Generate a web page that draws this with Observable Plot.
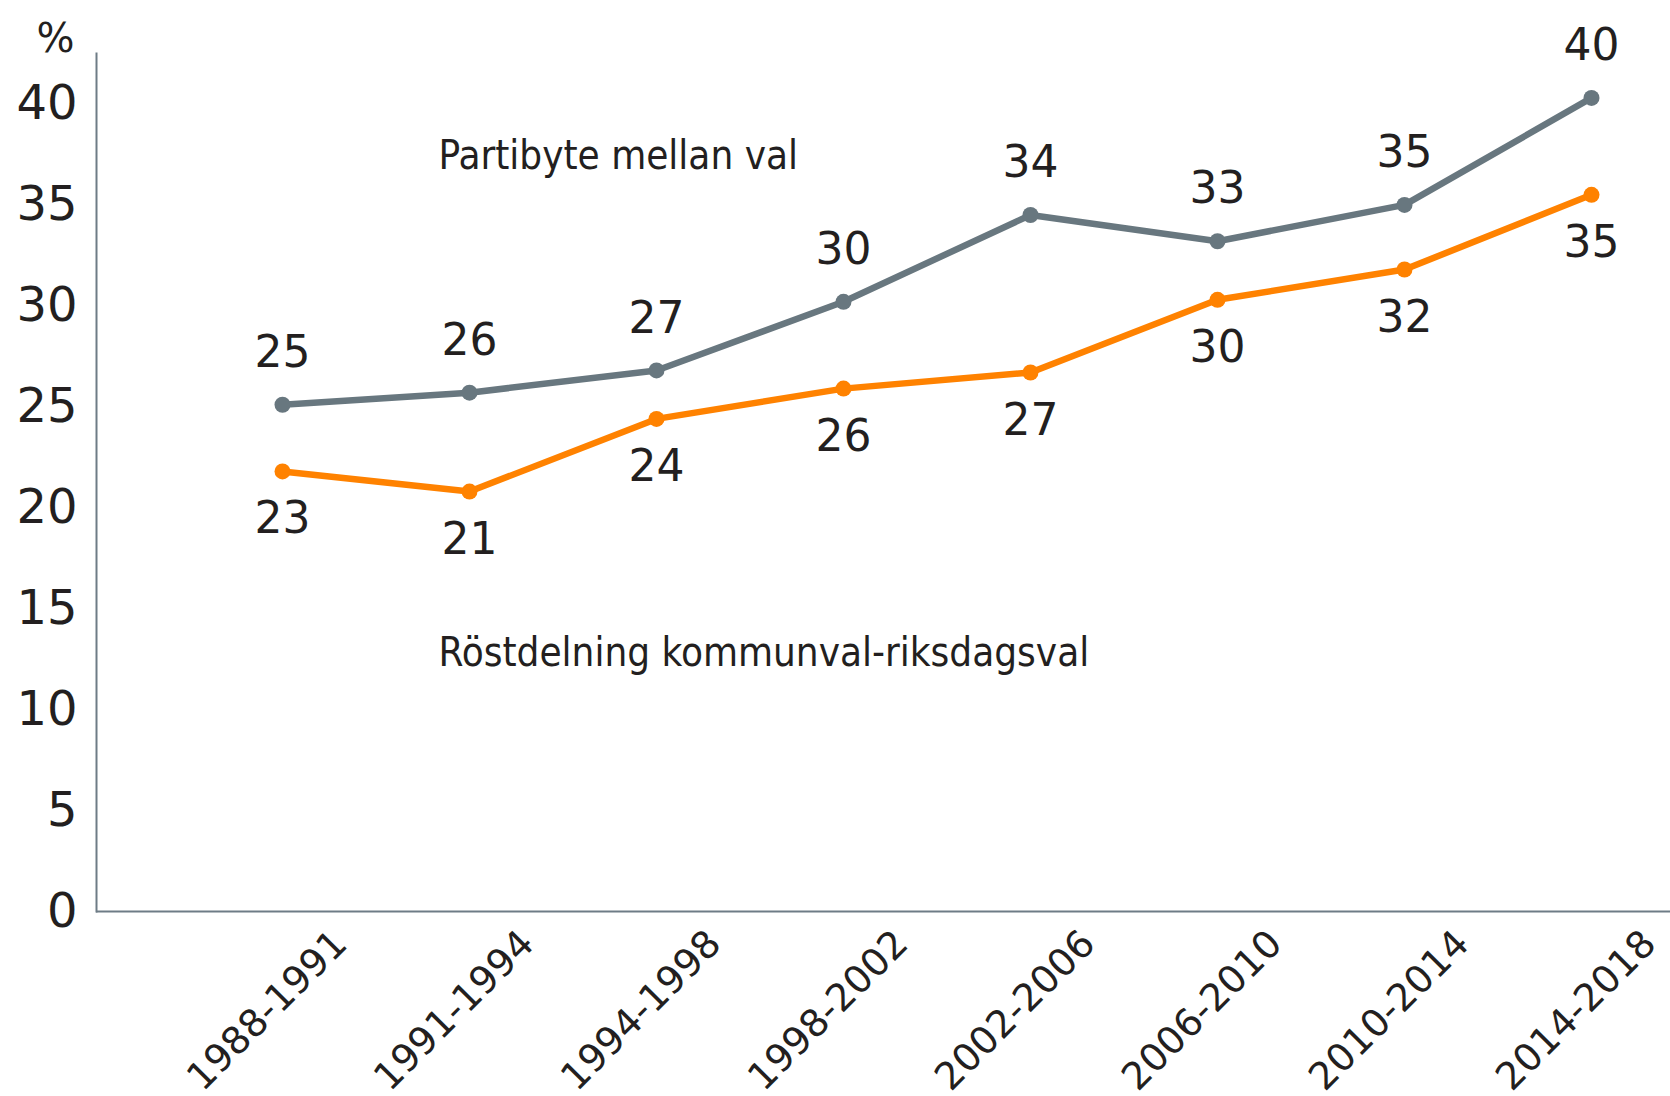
<!DOCTYPE html>
<html>
<head>
<meta charset="utf-8">
<script src="https://cdn.jsdelivr.net/npm/d3@7"></script>
<script src="https://cdn.jsdelivr.net/npm/@observablehq/plot@0.6"></script>
<style>
  html, body { margin: 0; padding: 0; background: #ffffff; }
  #chart svg { display: block; }
</style>
</head>
<body>
<div id="chart"></div>
<script>
const periods = ["1988-1991", "1991-1994", "1994-1998", "1998-2002", "2002-2006", "2006-2010", "2010-2014", "2014-2018"];
const partibyte = [25.1, 25.7, 26.8, 30.2, 34.5, 33.2, 35.0, 40.3];
const partibyteLabels = ["25", "26", "27", "30", "34", "33", "35", "40"];
const rostdelning = [21.8, 20.8, 24.4, 25.9, 26.7, 30.3, 31.8, 35.5];
const rostdelningLabels = ["23", "21", "24", "26", "27", "30", "32", "35"];
const yTicks = [0, 5, 10, 15, 20, 25, 30, 35, 40];
const seriesNames = ["Partibyte mellan val", "Röstdelning kommunval-riksdagsval"];

const grey = "#68777f";
const orange = "#ff8200";
const ink = "#231f20";
const textFont = "'DejaVu Sans Condensed', Roboto, sans-serif";

const rowsA = periods.map((p, i) => ({period: p, value: partibyte[i], label: partibyteLabels[i]}));
const rowsB = periods.map((p, i) => ({period: p, value: rostdelning[i], label: rostdelningLabels[i]}));

const chart = Plot.plot({
  width: 1670,
  height: 1096,
  marginLeft: 96,
  marginRight: 0,
  marginTop: 53,
  marginBottom: 185,
  style: {fontFamily: "'DejaVu Sans', sans-serif", color: ink, background: "#ffffff", overflow: "visible"},
  x: {type: "point", domain: periods, range: [280, 1592], padding: 0, label: null},
  y: {domain: [0, 42.5], label: null},
  marks: [
    Plot.frame({anchor: "left", stroke: "#6e7c86", strokeWidth: 2}),
    Plot.ruleY([0], {stroke: "#6e7c86", strokeWidth: 2}),
    Plot.axisY(yTicks, {tickSize: 0, tickPadding: 19, fontSize: 48, label: null, fill: ink}),
    Plot.axisX({tickSize: 0, tickRotate: -45, fontSize: 38, dx: 58, dy: 14, label: null, fill: ink}),
    Plot.text(["%"], {frameAnchor: "top-left", dx: -41, dy: -14, fontSize: 40, fill: ink, textAnchor: "middle", lineAnchor: "middle"}),
    Plot.line(rowsA, {x: "period", y: "value", stroke: grey, strokeWidth: 6.5}),
    Plot.line(rowsB, {x: "period", y: "value", stroke: orange, strokeWidth: 6.5}),
    Plot.dot(rowsA, {x: "period", y: "value", r: 8, fill: grey}),
    Plot.dot(rowsB, {x: "period", y: "value", r: 8, fill: orange}),
    Plot.text(rowsA, {x: "period", y: "value", text: "label", dy: -52, fontSize: 44, fill: ink}),
    Plot.text(rowsB, {x: "period", y: "value", text: "label", dy: 48, fontSize: 44, fill: ink}),
    Plot.text([seriesNames[0]], {x: () => periods[1], y: () => 37.4, dx: -31, textAnchor: "start", fontSize: 40, fontFamily: textFont, fill: ink}),
    Plot.text([seriesNames[1]], {x: () => periods[1], y: () => 12.8, dx: -31, textAnchor: "start", fontSize: 40, fontFamily: textFont, fill: ink})
  ]
});
document.getElementById("chart").appendChild(chart);
</script>
</body>
</html>
